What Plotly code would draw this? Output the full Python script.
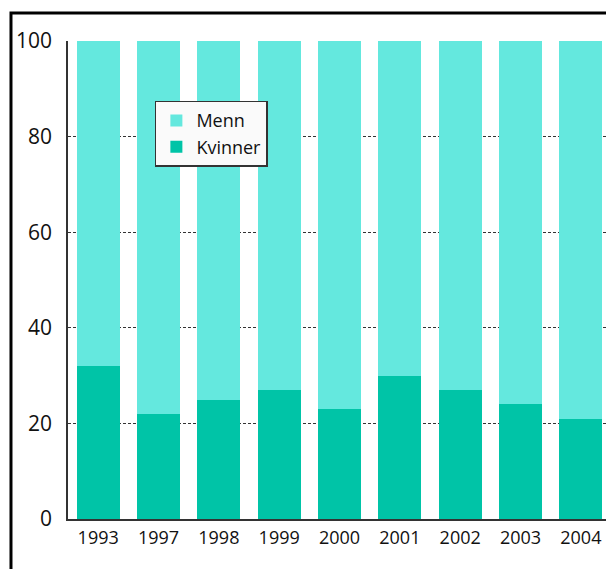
import plotly.graph_objects as go

years = ["1993", "1997", "1998", "1999", "2000", "2001", "2002", "2003", "2004"]
kvinner = [32, 22, 25, 27, 23, 30, 27, 24, 21]
menn = [100 - k for k in kvinner]

LIGHT = "#64e8de"
DARK = "#00c4a7"
FONT = dict(family="'Open Sans', sans-serif", color="#111111")

fig = go.Figure()
fig.add_trace(go.Bar(x=years, y=kvinner, name="Kvinner", marker_color=DARK, marker_line_width=0))
fig.add_trace(go.Bar(x=years, y=menn, name="Menn", marker_color=LIGHT, marker_line_width=0))

# page has an 8px body margin, so the figure is drawn a little smaller
fig.update_layout(
    width=606, height=561,
    barmode="stack", bargap=0.29,
    paper_bgcolor="white", plot_bgcolor="white",
    font=FONT,
    margin=dict(l=60, r=3, t=33, b=50),
    showlegend=True,
    legend=dict(x=0.16, y=0.875, xanchor="left", yanchor="top",
                bgcolor="#fafafa", bordercolor="#333333", borderwidth=1.5,
                font=dict(size=18, color="#111111"), tracegroupgap=0),
    xaxis=dict(type="category", range=[-0.5, 8.5], showline=True, linecolor="#333333",
               linewidth=1.5, showgrid=False, ticks="", tickfont=dict(size=18),
               ticklabelstandoff=2),
    yaxis=dict(range=[0, 100], tickvals=[0, 20, 40, 60, 80, 100], showline=True,
               linecolor="#333333", linewidth=1.5, showgrid=True, gridcolor="#333333",
               griddash="3px,2px", gridwidth=1, zeroline=False, ticks="",
               tickfont=dict(size=21), ticklabelstandoff=10),
    shapes=[dict(type="rect", xref="paper", yref="paper",
                 x0=-0.105, x1=1.1, y0=-0.2, y1=1.0586,
                 line=dict(color="black", width=3), fillcolor="rgba(0,0,0,0)",
                 layer="above")],
)

fig.write_html("out.html")
